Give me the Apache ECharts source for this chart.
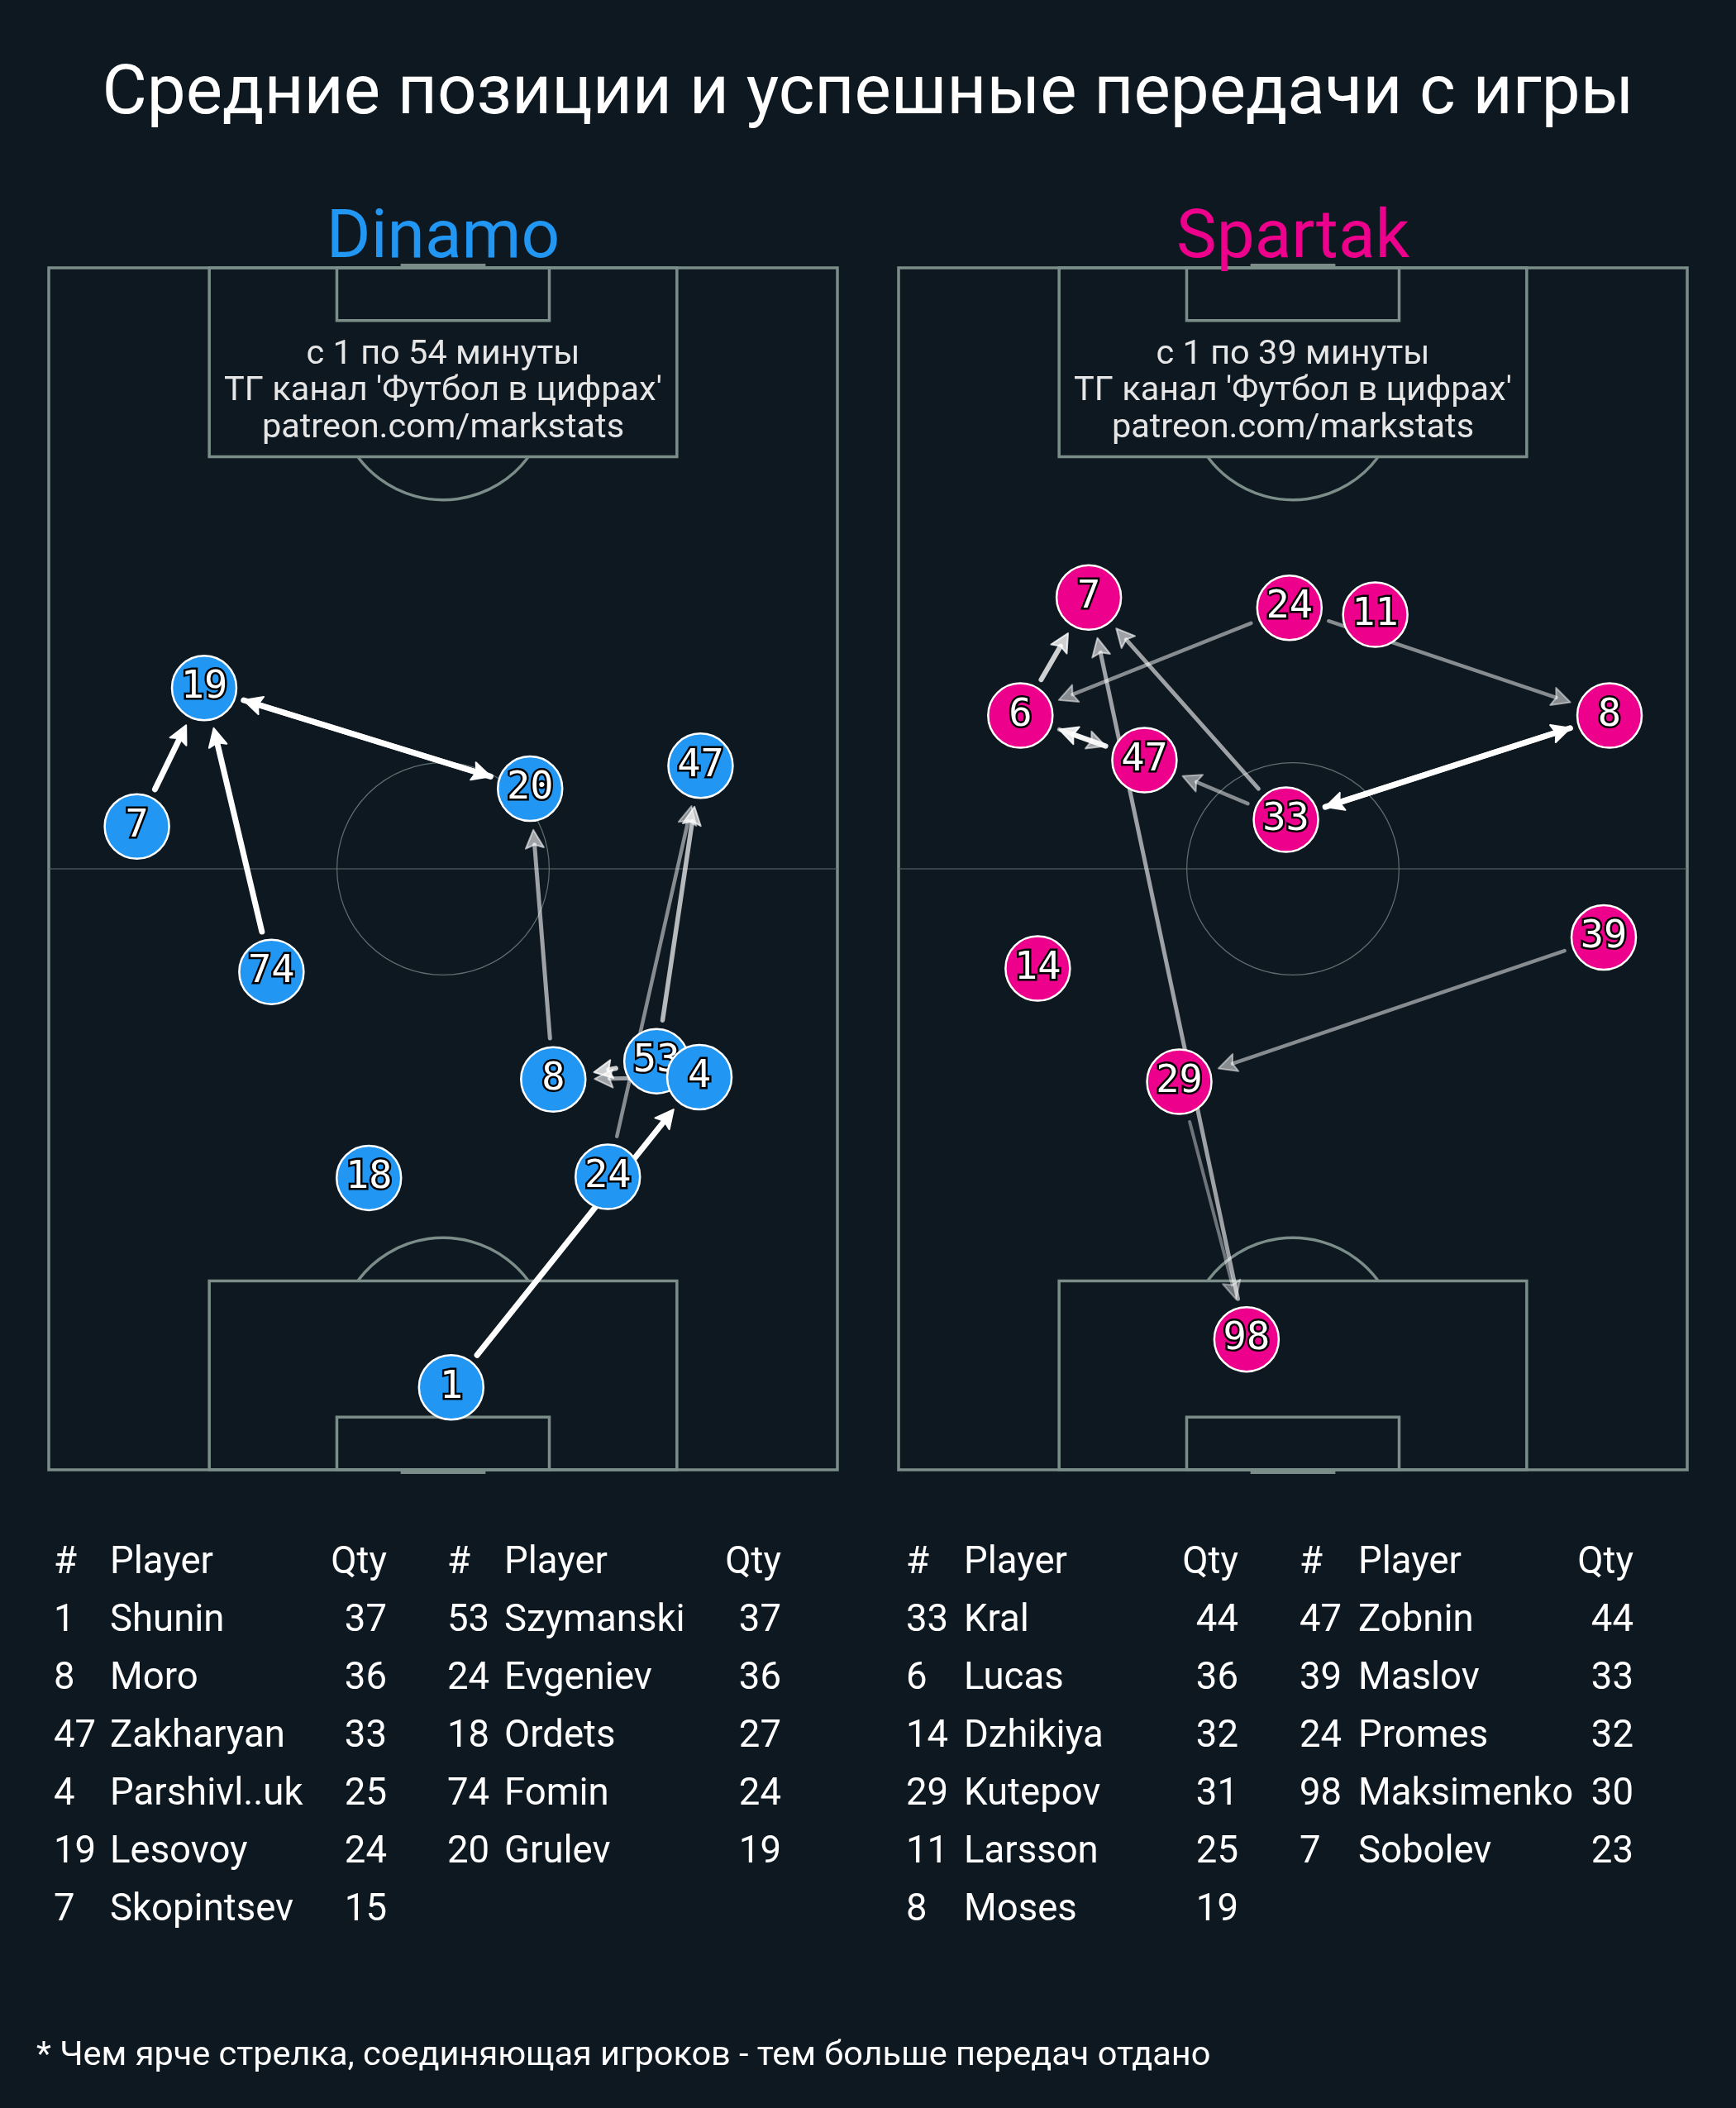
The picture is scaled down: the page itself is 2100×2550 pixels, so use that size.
<!DOCTYPE html>
<html>
<head>
<meta charset="utf-8">
<script src="https://cdn.jsdelivr.net/npm/echarts@6/dist/echarts.min.js"></script>
<style>
html,body{margin:0;padding:0;background:#0e1821;}
#chart{width:2100px;height:2550px;}
</style>
</head>
<body>
<div id="chart"></div>
<script>
// ---------------- texts ----------------
const titleText = 'Средние позиции и успешные передачи с игры';
const teamNames = ['Dinamo', 'Spartak'];
const teamColors = ['#2196f3', '#ec008c'];
const periodTexts = ['с 1 по 54 минуты', 'с 1 по 39 минуты'];
const creditLines = ["ТГ канал 'Футбол в цифрах'", 'patreon.com/markstats'];
const footnoteText = '* Чем ярче стрелка, соединяющая игроков - тем больше передач отдано';
const tableHeader = ['#', 'Player', 'Qty'];

// ---------------- Dinamo ----------------
const dinamoNums  = [1, 8, 47, 4, 19, 7, 53, 24, 18, 74, 20];
const dinamoNames = ['Shunin', 'Moro', 'Zakharyan', 'Parshivl..uk', 'Lesovoy', 'Skopintsev',
                     'Szymanski', 'Evgeniev', 'Ordets', 'Fomin', 'Grulev'];
const dinamoQty   = [37, 36, 33, 25, 24, 15, 37, 36, 27, 24, 19];
// average positions, metres: x across (0-68), y along (0-105, attacking upward)
const dinamoX = [34.7, 43.5, 56.2, 56.1, 13.4, 7.6, 52.4, 48.2, 27.6, 19.2, 41.5];
const dinamoY = [7.2, 34.1, 61.5, 34.3, 68.3, 56.2, 35.7, 25.6, 25.5, 43.5, 59.5];
const dinamoPassFrom  = [7, 74, 19, 20, 8, 24, 53, 53, 4, 1];
const dinamoPassTo    = [19, 19, 20, 19, 20, 47, 47, 8, 8, 4];
const dinamoPassCount = [10, 10, 10, 10, 6, 5, 7, 8, 6, 10];

// ---------------- Spartak ----------------
const spartakNums  = [33, 6, 14, 29, 11, 8, 47, 39, 24, 98, 7];
const spartakNames = ['Kral', 'Lucas', 'Dzhikiya', 'Kutepov', 'Larsson', 'Moses',
                      'Zobnin', 'Maslov', 'Promes', 'Maksimenko', 'Sobolev'];
const spartakQty   = [44, 36, 32, 31, 25, 19, 44, 33, 32, 30, 23];
const spartakX = [33.4, 10.5, 12.0, 24.2, 41.1, 61.3, 21.2, 60.8, 33.7, 30.0, 16.4];
const spartakY = [56.8, 65.9, 43.8, 33.9, 74.7, 65.9, 62.0, 46.5, 75.3, 11.4, 76.2];
const spartakPassFrom  = [6, 98, 33, 24, 24, 33, 8, 33, 47, 6, 39, 29];
const spartakPassTo    = [7, 7, 7, 6, 8, 8, 33, 47, 6, 47, 29, 98];
const spartakPassCount = [8, 6, 6, 5, 5, 10, 10, 5, 9, 6, 5, 4];

// ---------------- styling / layout ----------------
const BG = '#0e1821';
const PITCH_LINE = '#7b8d88';
const PITCH_THIN = '#5f6f70';
const PITCH_W = 68, PITCH_L = 105;
const gridLeft = [59, 1087], gridTop = 324, gridW = 954, gridH = 1454;
const NODE_R = 39;
const NODE_GAP = 50;

const chart = echarts.init(document.getElementById('chart'), null, {renderer: 'canvas'});

function pitchRender(params, api) {
  const c = (x, y) => api.coord([x, y]);
  const st = {stroke: PITCH_LINE, lineWidth: 3.5, fill: 'none'};
  const thin = {stroke: PITCH_THIN, lineWidth: 1.2, fill: 'none'};
  const rect = (x1, y1, x2, y2, style) => {
    const a = c(x1, y2), b = c(x2, y1);
    return {type: 'rect', shape: {x: a[0], y: a[1], width: b[0] - a[0], height: b[1] - a[1]}, style: style};
  };
  const mid = PITCH_W / 2;
  const pbW = 40.32, pbD = 16.5, sbW = 18.32, sbD = 4.6, spot = 11, r = 9.15, goalW = 7.32;
  const rPx = api.size([r, 0])[0];
  const center = c(mid, PITCH_L / 2);
  const ang = Math.asin((pbD - spot) / r);
  const botSpot = c(mid, spot), topSpot = c(mid, PITCH_L - spot);
  const gL = c(mid - goalW / 2, 0), gR = c(mid + goalW / 2, 0);
  const gTL = c(mid - goalW / 2, PITCH_L);
  const children = [
    rect(0, 0, PITCH_W, PITCH_L, st),
    {type: 'line', shape: {x1: c(0, PITCH_L / 2)[0], y1: center[1], x2: c(PITCH_W, 0)[0], y2: center[1]}, style: thin},
    {type: 'circle', shape: {cx: center[0], cy: center[1], r: rPx}, style: thin},
    rect(mid - pbW / 2, 0, mid + pbW / 2, pbD, st),
    rect(mid - pbW / 2, PITCH_L - pbD, mid + pbW / 2, PITCH_L, st),
    rect(mid - sbW / 2, 0, mid + sbW / 2, sbD, st),
    rect(mid - sbW / 2, PITCH_L - sbD, mid + sbW / 2, PITCH_L, st),
    {type: 'arc', shape: {cx: botSpot[0], cy: botSpot[1], r: rPx, startAngle: -Math.PI + ang, endAngle: -ang, clockwise: true}, style: st},
    {type: 'arc', shape: {cx: topSpot[0], cy: topSpot[1], r: rPx, startAngle: ang, endAngle: Math.PI - ang, clockwise: true}, style: st},
    {type: 'rect', shape: {x: gL[0], y: gL[1], width: gR[0] - gL[0], height: 5}, style: {fill: PITCH_LINE}},
    {type: 'rect', shape: {x: gTL[0], y: gTL[1] - 5, width: gR[0] - gL[0], height: 5}, style: {fill: PITCH_LINE}}
  ];
  return {type: 'group', children: children};
}

function makePassRender(maxCount) {
  return function (params, api) {
    const p1 = api.coord([api.value(0), api.value(1)]);
    const p2 = api.coord([api.value(2), api.value(3)]);
    const cnt = api.value(4);
    const a = cnt / maxCount;
    const dx = p2[0] - p1[0], dy = p2[1] - p1[1];
    const len = Math.sqrt(dx * dx + dy * dy);
    const ux = dx / len, uy = dy / len, nx = -uy, ny = ux;
    const sx = p1[0] + ux * NODE_GAP, sy = p1[1] + uy * NODE_GAP;
    const tx = p2[0] - ux * NODE_GAP, ty = p2[1] - uy * NODE_GAP;
    const hl = 22, hw = 11, notch = 4;
    const bx = tx - ux * hl, by = ty - uy * hl;
    const color = 'rgba(255,255,255,' + a.toFixed(3) + ')';
    const w = 2 + 5 * a;
    return {
      type: 'group',
      children: [
        {type: 'line', shape: {x1: sx, y1: sy, x2: bx + ux * notch, y2: by + uy * notch},
         style: {stroke: color, lineWidth: w, lineCap: 'round'}},
        {type: 'polygon', shape: {points: [[tx, ty], [bx + nx * hw, by + ny * hw], [bx + ux * notch, by + uy * notch], [bx - nx * hw, by - ny * hw]]},
         style: {fill: color, stroke: color, lineWidth: 2, lineJoin: 'round'}}
      ]
    };
  };
}

function makeNodeRender(color) {
  return function (params, api) {
    const p = api.coord([api.value(0), api.value(1)]);
    return {
      type: 'group',
      children: [
        {type: 'circle', shape: {cx: p[0], cy: p[1], r: NODE_R},
         style: {fill: color, stroke: '#ffffff', lineWidth: 2.5}},
        {type: 'text', x: p[0], y: p[1],
         style: {text: String(api.value(2)), fill: '#ffffff', stroke: '#000000', lineWidth: 5,
                 strokeFirst: true, fontFamily: 'DejaVu Sans Mono', fontSize: 47,
                 align: 'center', verticalAlign: 'middle'}}
      ]
    };
  };
}

const teams = [
  {nums: dinamoNums, names: dinamoNames, qty: dinamoQty, xs: dinamoX, ys: dinamoY,
   from: dinamoPassFrom, to: dinamoPassTo, count: dinamoPassCount},
  {nums: spartakNums, names: spartakNames, qty: spartakQty, xs: spartakX, ys: spartakY,
   from: spartakPassFrom, to: spartakPassTo, count: spartakPassCount}
];

const series = [];
teams.forEach((t, i) => {
  series.push({
    type: 'custom', xAxisIndex: i, yAxisIndex: i, z: 1, silent: true, clip: false,
    data: [[PITCH_W / 2, PITCH_L / 2]], renderItem: pitchRender
  });
  const idx = n => t.nums.indexOf(n);
  const passes = t.from.map((f, k) => [t.xs[idx(f)], t.ys[idx(f)], t.xs[idx(t.to[k])], t.ys[idx(t.to[k])], t.count[k]]);
  passes.sort((a, b) => a[4] - b[4]);
  const maxCount = Math.max.apply(null, t.count);
  series.push({
    type: 'custom', xAxisIndex: i, yAxisIndex: i, z: 2, silent: true, clip: false,
    encode: {x: [0, 2], y: [1, 3]},
    data: passes, renderItem: makePassRender(maxCount)
  });
  const nodes = t.nums.map((n, k) => [t.xs[k], t.ys[k], n]);
  nodes.sort((a, b) => a[0] - b[0]);
  series.push({
    type: 'custom', xAxisIndex: i, yAxisIndex: i, z: 3, silent: true, clip: false,
    encode: {x: 0, y: 1},
    data: nodes, renderItem: makeNodeRender(teamColors[i])
  });
});

// ---------------- text graphics ----------------
function txt(text, x, y, size, color, align) {
  return {type: 'text', x: x, y: y, z: 100, silent: true,
          style: {text: text, fill: color, fontSize: size, fontFamily: 'Roboto',
                  align: align || 'left', verticalAlign: 'middle'}};
}
const graphics = [];
graphics.push(txt(titleText, 1050, 116, 83.5, '#ffffff', 'center'));
const tableCols = [
  [[65, 133, 468], [541, 610, 945]],
  [[1096, 1166, 1498], [1572, 1643, 1976]]
];
const rowY0 = 1892, rowStep = 70, perBlock = 6;
const TS = 45.5;
teams.forEach((t, i) => {
  const cx = gridLeft[i] + gridW / 2;
  graphics.push(txt(teamNames[i], cx, 290, 82, teamColors[i], 'center'));
  graphics.push(txt(periodTexts[i], cx, 430, 41.5, '#e6e6e6', 'center'));
  graphics.push(txt(creditLines[0], cx, 474, 41.5, '#e6e6e6', 'center'));
  graphics.push(txt(creditLines[1], cx, 519, 41.5, '#e6e6e6', 'center'));
  tableCols[i].forEach((cols, b) => {
    graphics.push(txt(tableHeader[0], cols[0], rowY0, TS, '#ffffff', 'left'));
    graphics.push(txt(tableHeader[1], cols[1], rowY0, TS, '#ffffff', 'left'));
    graphics.push(txt(tableHeader[2], cols[2], rowY0, TS, '#ffffff', 'right'));
    for (let r = 0; r < perBlock; r++) {
      const k = b * perBlock + r;
      if (k >= t.nums.length) break;
      const y = rowY0 + rowStep * (r + 1);
      graphics.push(txt(String(t.nums[k]), cols[0], y, TS, '#ffffff', 'left'));
      graphics.push(txt(t.names[k], cols[1], y, TS, '#ffffff', 'left'));
      graphics.push(txt(String(t.qty[k]), cols[2], y, TS, '#ffffff', 'right'));
    }
  });
});
graphics.push(txt(footnoteText, 44, 2488, 41.5, '#ffffff', 'left'));

const option = {
  backgroundColor: BG,
  animation: false,
  grid: [0, 1].map(i => ({left: gridLeft[i], top: gridTop, width: gridW, height: gridH, containLabel: false})),
  xAxis: [0, 1].map(i => ({type: 'value', gridIndex: i, min: 0, max: PITCH_W, show: false})),
  yAxis: [0, 1].map(i => ({type: 'value', gridIndex: i, min: 0, max: PITCH_L, show: false})),
  series: series,
  graphic: graphics
};
chart.setOption(option);
</script>
</body>
</html>
